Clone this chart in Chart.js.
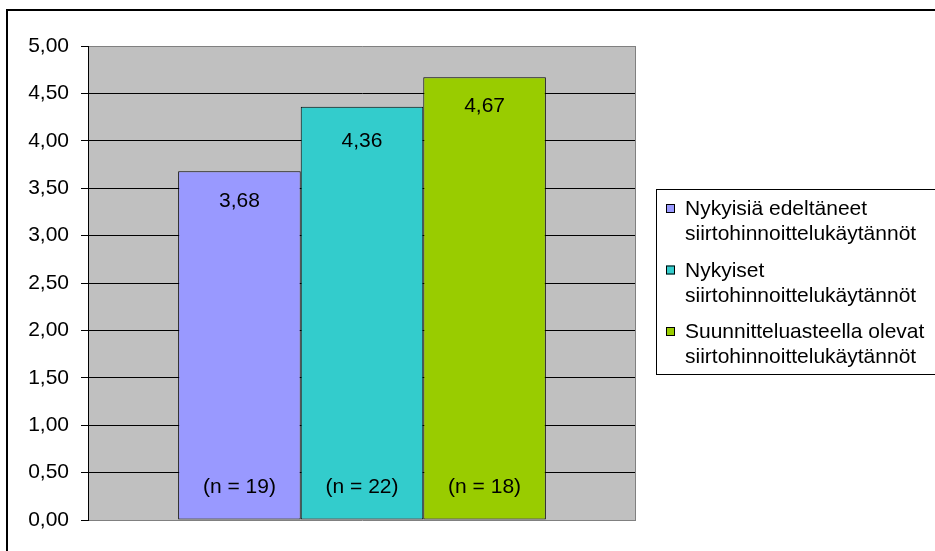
<!DOCTYPE html>
<html>
<head>
<meta charset="utf-8">
<script src="https://cdn.jsdelivr.net/npm/chart.js@4.4.1/dist/chart.umd.min.js"></script>
<style>
  html, body { margin: 0; padding: 0; background: #ffffff; }
  canvas { display: block; }
</style>
</head>
<body>
<canvas id="c" width="935" height="551"></canvas>
<script>
// ---- data ----
const categories = [''];
const seriesNames = [
  ['Nykyisiä edeltäneet', 'siirtohinnoittelukäytännöt'],
  ['Nykyiset', 'siirtohinnoittelukäytännöt'],
  ['Suunnitteluasteella olevat', 'siirtohinnoittelukäytännöt']
];
const seriesValues = [3.68, 4.36, 4.67];
const sampleSizes = [19, 22, 18];
const seriesColors = ['#9999FF', '#33CCCC', '#99CC00'];
const yMin = 0, yMax = 5, yStep = 0.5;

const FONT = '"Liberation Sans", Arial, sans-serif';
const fmt = v => v.toFixed(2).replace('.', ',');

const plotFrame = {
  id: 'plotFrame',
  beforeDraw(chart) {
    const { ctx, chartArea: a } = chart;
    ctx.save();
    ctx.fillStyle = '#ffffff';
    ctx.fillRect(0, 0, chart.width, chart.height);
    ctx.fillStyle = '#C0C0C0';
    ctx.fillRect(a.left, a.top, a.right - a.left, a.bottom - a.top);
    ctx.restore();
  },
  afterDraw(chart) {
    const { ctx, chartArea: a } = chart;
    ctx.save();
    ctx.strokeStyle = '#808080';
    ctx.lineWidth = 1;
    ctx.beginPath();
    ctx.moveTo(Math.round(a.right) - 0.5, a.top);
    ctx.lineTo(Math.round(a.right) - 0.5, a.bottom);
    ctx.stroke();
    ctx.strokeStyle = '#000000';
    ctx.lineWidth = 2;
    ctx.beginPath();
    ctx.moveTo(7, chart.height + 2);
    ctx.lineTo(7, 10);
    ctx.lineTo(chart.width + 2, 10);
    ctx.stroke();
    ctx.restore();
  }
};

const barLabels = {
  id: 'barLabels',
  afterDatasetsDraw(chart, args, opts) {
    const { ctx } = chart;
    const y = chart.scales.y;
    ctx.save();
    ctx.font = opts.fontSize + 'px ' + FONT;
    ctx.fillStyle = '#000';
    ctx.textAlign = 'center';
    ctx.textBaseline = 'middle';
    chart.data.datasets.forEach((ds, i) => {
      const el = chart.getDatasetMeta(i).data[0];
      ctx.fillText(fmt(ds.data[0]), el.x, el.y + opts.valueOffsets[i]);
      ctx.fillText('(n = ' + sampleSizes[i] + ')', el.x, y.getPixelForValue(0) - opts.nOffset);
    });
    ctx.restore();
  }
};

const boxLegend = {
  id: 'boxLegend',
  afterDraw(chart, args, o) {
    const { ctx } = chart;
    ctx.save();
    ctx.strokeStyle = '#000';
    ctx.lineWidth = 1;
    ctx.strokeRect(o.left + 0.5, o.top + 0.5, o.width, o.height);
    ctx.font = o.fontSize + 'px ' + FONT;
    ctx.textBaseline = 'alphabetic';
    ctx.textAlign = 'left';
    chart.data.datasets.forEach((ds, i) => {
      const base = o.firstBaseline + i * o.itemStep;
      const bt = base - o.boxRise;
      ctx.fillStyle = ds.backgroundColor;
      ctx.fillRect(o.boxX, bt, o.boxSize, o.boxSize);
      ctx.strokeStyle = '#000';
      ctx.strokeRect(o.boxX + 0.5, bt + 0.5, o.boxSize - 1, o.boxSize - 1);
      ctx.fillStyle = '#000';
      ds.label.forEach((line, j) => {
        ctx.fillText(line, o.textX, base + j * o.lineHeight);
      });
    });
    ctx.restore();
  }
};

const datasets = seriesNames.map((name, i) => ({
  label: name,
  data: [seriesValues[i]],
  backgroundColor: seriesColors[i],
  borderColor: '#000000',
  borderWidth: 1,
  borderSkipped: false,
  categoryPercentage: 0.671,
  barPercentage: 1.0
}));

new Chart(document.getElementById('c'), {
  type: 'bar',
  data: { labels: categories, datasets },
  plugins: [plotFrame, barLabels, boxLegend],
  options: {
    responsive: false,
    animation: false,
    devicePixelRatio: 1,
    layout: { padding: { left: 0, top: 46, right: 299, bottom: 31 } },
    plugins: {
      legend: { display: false },
      tooltip: { enabled: false },
      barLabels: { fontSize: 21, valueOffsets: [30, 35, 29], nOffset: 33 },
      boxLegend: {
        left: 656, top: 189, width: 300, height: 185,
        boxX: 666, boxSize: 9, boxRise: 11, textX: 685,
        firstBaseline: 215, itemStep: 61.5, lineHeight: 25, fontSize: 21
      }
    },
    scales: {
      x: {
        type: 'category',
        offset: true,
        display: false,
        grid: { display: false }
      },
      y: {
        min: yMin,
        max: yMax,
        afterFit(s) { s.width = 88; },
        ticks: {
          stepSize: yStep,
          padding: 12,
          color: '#000',
          font: { family: FONT, size: 21 },
          callback: v => fmt(v)
        },
        grid: {
          color: ctx => (ctx.tick && (ctx.tick.value === yMax || ctx.tick.value === yMin)) ? '#808080' : '#000000',
          lineWidth: 1,
          tickLength: 7,
          tickColor: '#000000',
          drawTicks: true
        },
        border: { display: true, color: '#000000', width: 1 }
      }
    }
  }
});
</script>
</body>
</html>
